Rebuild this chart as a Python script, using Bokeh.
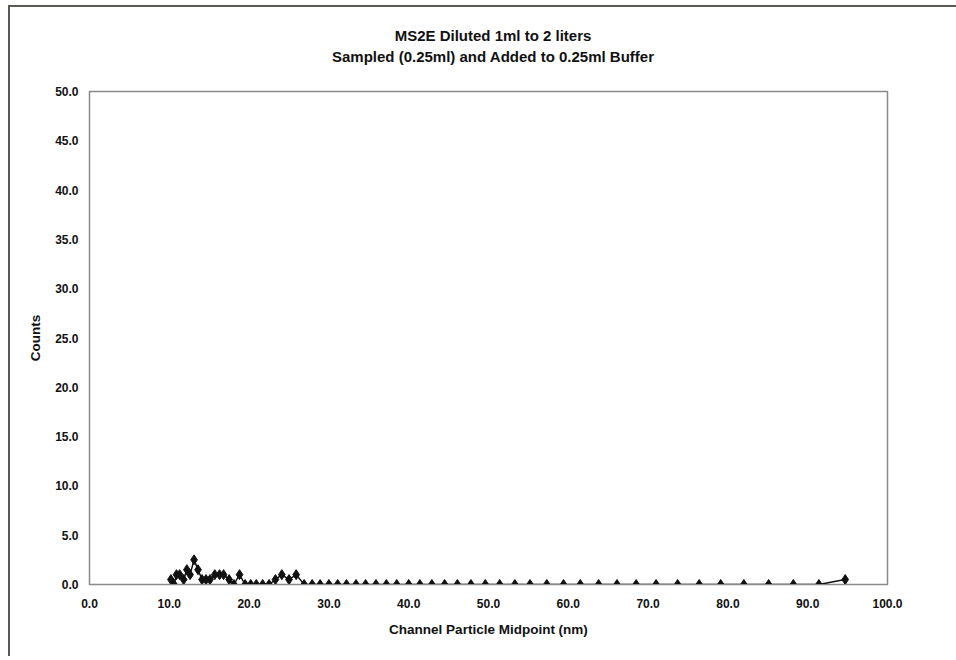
from bokeh.plotting import figure
from bokeh.models import Range1d, FixedTicker, NumeralTickFormatter, ColumnDataSource, Div
from bokeh.layouts import column
from bokeh.embed import file_html
from bokeh.resources import INLINE

# Channel midpoints (nm) and counts
midpoint_nm = [10.2, 10.6, 10.9, 11.3, 11.8, 12.2, 12.6, 13.1, 13.6, 14.1, 14.6, 15.1,
               15.7, 16.3, 16.8, 17.5, 18.1, 18.8, 19.5, 20.2, 20.9, 21.7, 22.5, 23.3,
               24.1, 25.0, 25.9, 26.9, 27.9, 28.9, 30.0, 31.1, 32.2, 33.4, 34.6, 35.9,
               37.2, 38.5, 40.0, 41.4, 42.9, 44.5, 46.1, 47.8, 49.6, 51.4, 53.3, 55.2,
               57.3, 59.4, 61.5, 63.8, 66.1, 68.5, 71.0, 73.7, 76.4, 79.1, 82.0, 85.1,
               88.2, 91.4, 94.7]
counts = [0.5, 0.0, 1.0, 1.0, 0.5, 1.5, 1.0, 2.5, 1.5, 0.5, 0.5, 0.5,
          1.0, 1.0, 1.0, 0.5, 0.0, 1.0, 0.0, 0.0, 0.0, 0.0, 0.0, 0.5,
          1.0, 0.5, 1.0, 0.0, 0.0, 0.0, 0.0, 0.0, 0.0, 0.0, 0.0, 0.0,
          0.0, 0.0, 0.0, 0.0, 0.0, 0.0, 0.0, 0.0, 0.0, 0.0, 0.0, 0.0,
          0.0, 0.0, 0.0, 0.0, 0.0, 0.0, 0.0, 0.0, 0.0, 0.0, 0.0, 0.0,
          0.0, 0.0, 0.5]

x_ticks = [0, 10, 20, 30, 40, 50, 60, 70, 80, 90, 100]
y_ticks = [0, 5, 10, 15, 20, 25, 30, 35, 40, 45, 50]

title_line1 = "MS2E Diluted 1ml to 2 liters"
title_line2 = "Sampled (0.25ml) and Added to 0.25ml Buffer"
x_label = "Channel Particle Midpoint (nm)"
y_label = "Counts"

FONT = "Liberation Sans"

title_div = Div(width=940, height=60,
                text=('<div style="margin-left:16px; width:924px; padding-top:13px; '
                      'text-align:center; font-family:\'Liberation Sans\'; font-size:15px; '
                      'font-weight:bold; line-height:21px; color:#111111;">'
                      f'{title_line1}<br>{title_line2}</div>'))

p = figure(width=940, height=579, output_backend="svg", toolbar_location=None,
           x_range=Range1d(0, 100), y_range=Range1d(0, 50),
           min_border_left=79, min_border_right=63, min_border_top=14, min_border_bottom=72)

p.xgrid.visible = False
p.ygrid.visible = False
p.outline_line_color = "#8a8a8a"
p.outline_line_width = 1.5
p.background_fill_color = "white"
p.border_fill_color = "white"

for ax in (p.xaxis[0], p.yaxis[0]):
    ax.axis_line_color = "#8a8a8a"
    ax.major_tick_line_color = None
    ax.minor_tick_line_color = None
    ax.major_tick_out = 0
    ax.major_tick_in = 0
    ax.major_label_text_font = FONT
    ax.major_label_text_font_size = "12px"
    ax.major_label_text_font_style = "bold"
    ax.major_label_text_color = "#111111"
    ax.axis_label_text_font = FONT
    ax.axis_label_text_font_size = "13.5px"
    ax.axis_label_text_font_style = "bold"
    ax.axis_label_text_color = "#111111"
    ax.formatter = NumeralTickFormatter(format="0.0")

p.xaxis.ticker = FixedTicker(ticks=x_ticks)
p.yaxis.ticker = FixedTicker(ticks=y_ticks)
p.xaxis.axis_label = x_label
p.yaxis.axis_label = y_label
p.xaxis.major_label_standoff = 14
p.yaxis.major_label_standoff = 11
p.xaxis.axis_label_standoff = 11
p.yaxis.axis_label_standoff = 9

src = ColumnDataSource(dict(x=midpoint_nm, y=counts))
p.line("x", "y", source=src, line_color="#111111", line_width=1.5)
p.scatter("x", "y", source=src, marker="diamond", size=10, fill_color="#111111",
          line_color="#111111")

layout = column(title_div, p, spacing=0)
layout.styles = {"border-top": "2px solid #5a5a55", "border-left": "2px solid #5a5a55",
                 "margin-left": "8px", "margin-top": "5px", "background-color": "white"}

open("out.html", "w").write(file_html(layout, INLINE))
